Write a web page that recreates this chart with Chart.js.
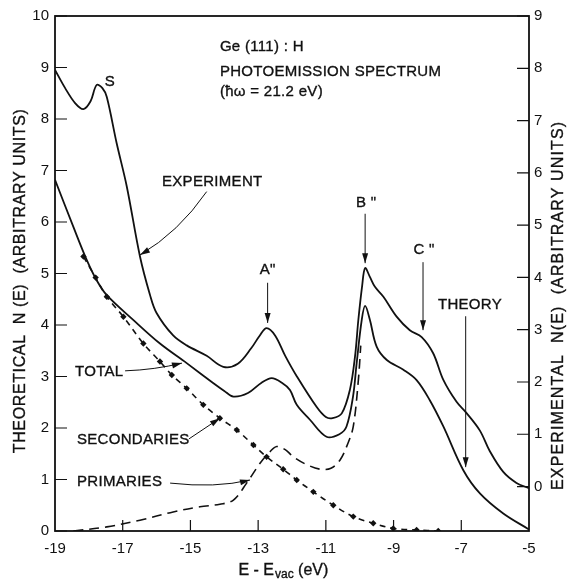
<!DOCTYPE html>
<html>
<head>
<meta charset="utf-8">
<script src="https://cdn.jsdelivr.net/npm/chart.js@4.4.1/dist/chart.umd.min.js"></script>
<style>
  html, body { margin: 0; padding: 0; background: #fff; }
  #wrap { width: 568px; height: 581px; }
</style>
</head>
<body>
<div id="wrap"><canvas id="chartSpectrum" width="568" height="581"></canvas></div>
<script>
const INK = "#111";
const FONT = "'Liberation Sans', Arial, sans-serif";

// tick labels
const xTicks = [-19, -17, -15, -13, -11, -9, -7, -5];
const leftTicks = [0, 1, 2, 3, 4, 5, 6, 7, 8, 9, 10];
const rightTicks = [0, 1, 2, 3, 4, 5, 6, 7, 8, 9];

// experiment, right axis (experimental units)
const experimentE = [-19, -18.7, -18.4, -18.16, -17.95, -17.77, -17.6, -17.47, -17.18, -16.88,
  -16.49, -16.2, -16.0, -15.51, -15.11, -14.52, -14.03, -13.6, -13.2, -12.95,
  -12.75, -12.5, -12.2, -11.86, -11.27, -11.0, -10.8, -10.53, -10.29, -10.14,
  -10.04, -9.93, -9.84, -9.7, -9.55, -9.3, -8.91, -8.52, -8.17, -7.83,
  -7.53, -7.14, -6.85, -6.45, -6.16, -5.76, -5.37, -5.0];
const experimentN = [7.97, 7.62, 7.33, 7.22, 7.37, 7.68, 7.62, 7.45, 6.57, 5.74,
  4.40, 3.68, 3.32, 2.89, 2.70, 2.50, 2.29, 2.35, 2.65, 2.89,
  3.03, 2.89, 2.50, 2.11, 1.52, 1.33, 1.31, 1.40, 1.85, 2.48,
  3.19, 3.83, 4.18, 4.01, 3.82, 3.63, 3.25, 2.99, 2.86, 2.55,
  2.04, 1.62, 1.41, 1.07, 0.68, 0.28, 0.07, -0.03];

// theory, left axis
const totalE = [-19, -18.46, -18.06, -17.77, -17.47, -16.69, -15.90, -15.11, -14.32, -14.0,
  -13.73, -13.3, -12.9, -12.6, -12.3, -12.06, -11.86, -11.47, -10.98, -10.6,
  -10.39, -10.2, -10.09, -9.94, -9.84, -9.7, -9.5, -9.2, -8.71, -8.32,
  -7.93, -7.53, -6.94, -6.45, -5.76, -5.0];
const totalN = [6.82, 5.91, 5.26, 4.87, 4.58, 4.10, 3.64, 3.26, 2.87, 2.72,
  2.61, 2.68, 2.88, 2.97, 2.88, 2.74, 2.45, 2.16, 1.83, 1.88,
  2.03, 2.6, 3.26, 4.10, 4.37, 4.1, 3.58, 3.32, 3.13, 2.93,
  2.54, 2.03, 1.18, 0.73, 0.34, 0.03];

const secondariesE = [-18.16, -17.8, -17.47, -16.98, -16.39, -15.90, -15.55, -15.11, -14.62, -14.13,
  -13.63, -13.14, -12.75, -12.26, -11.86, -11.37, -10.78, -10.19, -9.60, -9.01, -8.32, -7.68];
const secondariesN = [5.33, 4.92, 4.55, 4.16, 3.64, 3.29, 3.03, 2.77, 2.45, 2.19,
  1.96, 1.67, 1.44, 1.20, 0.99, 0.76, 0.50, 0.28, 0.15, 0.05, 0.02, 0.0];

const primariesE = [-18.46, -17.47, -16.49, -15.51, -14.72, -14.13, -13.73, -13.34, -12.95, -12.65,
  -12.45, -12.2, -11.96, -11.6, -11.17, -10.85, -10.58, -10.35, -10.19, -10.04, -9.97];
const primariesN = [0, 0.08, 0.21, 0.37, 0.47, 0.52, 0.60, 0.93, 1.31, 1.54,
  1.64, 1.58, 1.44, 1.30, 1.20, 1.22, 1.38, 1.7, 2.03, 2.93, 3.6];

const pairs = (xs, ys) => xs.map((x, i) => ({ x, y: ys[i] }));

// labels and arrows, in data units of the left axis
const notes = [
  { text: "Ge (111) : H", e: -14.13, n: 9.40, align: "left" },
  { text: "PHOTOEMISSION SPECTRUM", e: -14.13, n: 8.92, align: "left" },
  { text: "(ħω = 21.2 eV)", e: -14.13, n: 8.52, align: "left" },
  { text: "S", e: -17.38, n: 8.72, align: "center" },
  { text: "EXPERIMENT", e: -15.84, n: 6.78, align: "left" },
  { text: "A\"", e: -12.72, n: 5.07, align: "center" },
  { text: "B \"", e: -9.81, n: 6.37, align: "center" },
  { text: "C \"", e: -8.10, n: 5.46, align: "center" },
  { text: "THEORY", e: -7.69, n: 4.39, align: "left" },
  { text: "TOTAL", e: -18.41, n: 3.09, align: "left" },
  { text: "SECONDARIES", e: -18.35, n: 1.77, align: "left" },
  { text: "PRIMARIES", e: -18.35, n: 0.95, align: "left" },
];
const arrows = [
  { from: [-14.52, 6.59], ctrl: [-15.35, 5.80], to: [-16.49, 5.36] },
  { from: [-12.72, 4.82], to: [-12.72, 4.04] },
  { from: [-9.84, 6.16], to: [-9.84, 5.20] },
  { from: [-8.13, 5.22], to: [-8.13, 3.90] },
  { from: [-6.87, 4.17], to: [-6.87, 1.24] },
  { from: [-16.93, 3.11], ctrl: [-16.05, 3.13], to: [-15.25, 3.26] },
  { from: [-15.04, 1.79], to: [-14.13, 2.19] },
  { from: [-15.60, 0.93], ctrl: [-14.27, 0.83], to: [-13.24, 0.99] },
];

function drawArrow(ctx, p0, c, p1) {
  ctx.beginPath();
  ctx.moveTo(p0[0], p0[1]);
  if (c) ctx.quadraticCurveTo(c[0], c[1], p1[0], p1[1]);
  else ctx.lineTo(p1[0], p1[1]);
  ctx.stroke();
  const b = c || p0;
  const ang = Math.atan2(p1[1] - b[1], p1[0] - b[0]);
  const L = 10, W = 3;
  const cs = Math.cos(ang), sn = Math.sin(ang);
  ctx.beginPath();
  ctx.moveTo(p1[0], p1[1]);
  ctx.lineTo(p1[0] - L * cs + W * sn, p1[1] - L * sn - W * cs);
  ctx.lineTo(p1[0] - L * cs - W * sn, p1[1] - L * sn + W * cs);
  ctx.closePath();
  ctx.fill();
}

function spacedText(ctx, text, x, y, target) {
  ctx.letterSpacing = "0px";
  const w = ctx.measureText(text).width;
  const sp = Math.max(0, (target - w) / (text.length - 1));
  ctx.letterSpacing = sp + "px";
  ctx.fillText(text, x + sp / 2, y);
  ctx.strokeText(text, x + sp / 2, y);
  ctx.letterSpacing = "0px";
}

// a thin stroke over filled text, to get closer to the heavier lettering
function heavyText(ctx, text, x, y) {
  ctx.fillText(text, x, y);
  ctx.strokeText(text, x, y);
}

const framePlugin = {
  id: "frame",
  beforeDraw(chart) {
    const { ctx } = chart;
    ctx.save();
    ctx.fillStyle = "#fff";
    ctx.fillRect(0, 0, chart.width, chart.height);
    ctx.restore();
  },
  afterDraw(chart) {
    const { ctx, chartArea: a, scales } = chart;
    const px = (e) => scales.x.getPixelForValue(e);
    const py = (n) => scales.y.getPixelForValue(n);
    ctx.save();
    ctx.strokeStyle = INK;
    ctx.fillStyle = INK;

    // frame + inward ticks
    ctx.lineWidth = 1.8;
    ctx.strokeRect(a.left, a.top, a.right - a.left, a.bottom - a.top);
    ctx.lineWidth = 1.2;
    ctx.beginPath();
    leftTicks.forEach((v) => { const y = py(v); ctx.moveTo(a.left, y); ctx.lineTo(a.left + 12, y); });
    rightTicks.forEach((v) => { const y = scales.y1.getPixelForValue(v); ctx.moveTo(a.right - 12, y); ctx.lineTo(a.right, y); });
    xTicks.slice(1, -1).forEach((v) => { const x = px(v); ctx.moveTo(x, a.bottom); ctx.lineTo(x, a.bottom - 11); });
    ctx.stroke();

    // notes
    ctx.font = "15px " + FONT;
    ctx.textBaseline = "middle";
    ctx.letterSpacing = "0.3px";
    ctx.lineWidth = 0.35;
    notes.forEach((t) => {
      ctx.textAlign = t.align;
      heavyText(ctx, t.text, px(t.e), py(t.n));
    });
    ctx.letterSpacing = "0px";
    ctx.lineWidth = 1;
    arrows.forEach((ar) => {
      drawArrow(ctx, [px(ar.from[0]), py(ar.from[1])],
        ar.ctrl ? [px(ar.ctrl[0]), py(ar.ctrl[1])] : null,
        [px(ar.to[0]), py(ar.to[1])]);
    });

    // axis titles
    ctx.font = "16px " + FONT;
    ctx.lineWidth = 0.35;
    ctx.save();
    ctx.translate(21, py(4.85));
    ctx.rotate(-Math.PI / 2);
    ctx.textAlign = "center";
    spacedText(ctx, "THEORETICAL  N (E)  (ARBITRARY UNITS)", 0, 0, 344);
    ctx.restore();
    ctx.save();
    ctx.translate(559, py(4.37));
    ctx.rotate(-Math.PI / 2);
    ctx.textAlign = "center";
    spacedText(ctx, "EXPERIMENTAL  N(E)  (ARBITRARY UNITS)", 0, 0, 368);
    ctx.restore();

    // x title with subscript
    const main1 = "E - E", sub = "vac", main2 = " (eV)";
    ctx.font = "16px " + FONT;
    const w1 = ctx.measureText(main1).width, w3 = ctx.measureText(main2).width;
    ctx.font = "12px " + FONT;
    const w2 = ctx.measureText(sub).width;
    const x0 = px(-12.27) - (w1 + w2 + w3) / 2;
    const yT = a.bottom + 40;
    ctx.textAlign = "left";
    ctx.font = "16px " + FONT;
    heavyText(ctx, main1, x0, yT);
    ctx.font = "12px " + FONT;
    heavyText(ctx, sub, x0 + w1 + 1, yT + 4);
    ctx.font = "16px " + FONT;
    heavyText(ctx, main2, x0 + w1 + w2 + 1, yT);
    ctx.restore();
  },
};

const tickFont = { family: FONT, size: 15 };
const canvas = document.getElementById("chartSpectrum");
const ctx = canvas.getContext("2d");

new Chart(ctx, {
  type: "line",
  data: {
    datasets: [
      {
        label: "Experiment",
        data: pairs(experimentE, experimentN),
        yAxisID: "y1",
        borderColor: INK,
        borderWidth: 1.8,
        pointRadius: 0,
        tension: 0.35,
      },
      {
        label: "Total",
        data: pairs(totalE, totalN),
        yAxisID: "y",
        borderColor: INK,
        borderWidth: 1.8,
        pointRadius: 0,
        tension: 0.35,
      },
      {
        label: "Secondaries",
        data: pairs(secondariesE, secondariesN),
        yAxisID: "y",
        borderColor: INK,
        borderWidth: 1.6,
        borderDash: [6, 5],
        pointStyle: "rectRot",
        pointRadius: 3.2,
        pointBorderWidth: 0,
        pointBackgroundColor: INK,
        tension: 0.35,
      },
      {
        label: "Primaries",
        data: pairs(primariesE, primariesN),
        yAxisID: "y",
        borderColor: INK,
        borderWidth: 1.6,
        borderDash: [10, 6],
        pointRadius: 0,
        tension: 0.35,
      },
    ],
  },
  options: {
    responsive: false,
    animation: false,
    layout: { padding: { top: 16, left: 0, right: 0, bottom: 0 } },
    plugins: { legend: { display: false }, tooltip: { enabled: false } },
    scales: {
      x: {
        type: "linear",
        min: -19,
        max: -5,
        grid: { display: false, drawTicks: false },
        border: { display: false },
        ticks: { color: INK, font: tickFont, padding: 9, maxRotation: 0, autoSkip: false },
        afterBuildTicks: (s) => { s.ticks = xTicks.map((v) => ({ value: v })); },
        afterFit: (s) => { s.height = 50; },
      },
      y: {
        position: "left",
        min: 0,
        max: 10,
        grid: { display: false, drawTicks: false },
        border: { display: false },
        ticks: { color: INK, font: tickFont, padding: 6 },
        afterBuildTicks: (s) => { s.ticks = leftTicks.map((v) => ({ value: v })); },
        afterFit: (s) => { s.width = 55; },
      },
      y1: {
        position: "right",
        min: -0.85,
        max: 9,
        grid: { display: false, drawTicks: false },
        border: { display: false },
        ticks: { color: INK, font: tickFont, padding: 5 },
        afterBuildTicks: (s) => { s.ticks = rightTicks.map((v) => ({ value: v })); },
        afterFit: (s) => { s.width = 39; },
      },
    },
  },
  plugins: [framePlugin],
});
</script>
</body>
</html>
